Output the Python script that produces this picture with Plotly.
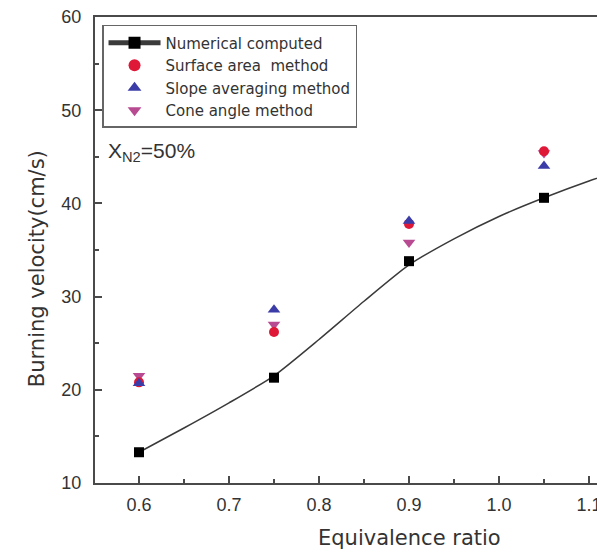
import plotly.graph_objects as go

# Data
phi = [0.6, 0.75, 0.9, 1.05]
numerical = [13.3, 21.3, 33.8, 40.6]
# numerical (computed) curve, continuing past the right edge of the view
curve_x = [0.6, 0.65, 0.7, 0.75, 0.8, 0.85, 0.9, 0.95, 1.0, 1.05, 1.1, 1.15]
curve_y = [13.3, 15.9, 18.6, 21.5, 25.4, 29.5, 33.4, 36.2, 38.6, 40.6, 42.4, 44.0]
surface_area = [20.8, 26.2, 37.8, 45.6]
slope_avg = [20.7, 28.6, 38.1, 44.0]
cone_angle = [21.5, 27.0, 35.8, 45.4]

x_ticks = [0.6, 0.7, 0.8, 0.9, 1.0, 1.1]
x_tick_text = ["0.6", "0.7", "0.8", "0.9", "1.0", "1.1"]
y_ticks = [10, 20, 30, 40, 50, 60]

FONT = "Liberation Sans, Arial, sans-serif"
WFONT = "DejaVu Sans, Verdana, sans-serif"
TXT = "#333333"
AX = "#4a4a4a"

fig = go.Figure()

# computed curve (line only)
fig.add_trace(go.Scatter(
    x=curve_x, y=curve_y, mode="lines", showlegend=False, legendgroup="num",
    line=dict(color="#3a3a3a", width=1.5, shape="spline", smoothing=0.6),
    hoverinfo="skip",
))
# computed points
fig.add_trace(go.Scatter(
    x=phi, y=numerical, mode="markers", showlegend=False, legendgroup="num",
    name="Numerical computed",
    marker=dict(symbol="square", size=10, color="black"),
))
# legend entry (line + square) for the computed series
fig.add_trace(go.Scatter(
    x=[None], y=[None], mode="lines+markers", name="Numerical computed",
    legendgroup="num", legendrank=1,
    line=dict(color="#3a3a3a", width=1.5),
    marker=dict(symbol="square", size=10, color="black"),
))
fig.add_trace(go.Scatter(
    x=phi, y=cone_angle, mode="markers", name="Cone angle method", legendrank=4,
    marker=dict(symbol="triangle-down", size=11, color="#b84a92"),
))
fig.add_trace(go.Scatter(
    x=phi, y=surface_area, mode="markers", name="Surface area  method", legendrank=2,
    marker=dict(symbol="circle", size=10, color="#e01838"),
))
fig.add_trace(go.Scatter(
    x=phi, y=slope_avg, mode="markers", name="Slope averaging method", legendrank=3,
    marker=dict(symbol="triangle-up", size=11, color="#3c3ca8"),
))

fig.update_layout(
    width=597, height=553,
    margin=dict(l=95, r=0, t=17, b=70, autoexpand=False),
    paper_bgcolor="white", plot_bgcolor="white",
    font=dict(family=FONT, color=TXT, size=16),
    showlegend=True,
    legend=dict(
        x=0.014, y=0.983, xanchor="left", yanchor="top",
        bgcolor="white", bordercolor="#666666", borderwidth=1.5,
        font=dict(family=WFONT, size=15, color=TXT),
        tracegroupgap=0, itemsizing="constant", itemwidth=52,
        traceorder="normal",
    ),
    xaxis=dict(
        range=[0.5511, 1.1089], tickvals=x_ticks, ticktext=x_tick_text,
        showgrid=False, zeroline=False, showline=True, linecolor=AX, linewidth=2,
        mirror=True, ticks="inside", ticklen=7, tickwidth=1.5, tickcolor=AX,
        tickfont=dict(size=18, color=TXT), ticklabelstandoff=4,
        ticklabeloverflow="allow",
        minor=dict(dtick=0.05, tick0=0.6, ticks="inside", ticklen=4, tickwidth=1.5, tickcolor=AX),
    ),
    yaxis=dict(
        range=[10, 60], tickvals=y_ticks,
        showgrid=False, zeroline=False, showline=True, linecolor=AX, linewidth=2,
        mirror=False, ticks="inside", ticklen=7, tickwidth=1.5, tickcolor=AX,
        tickfont=dict(size=18, color=TXT), ticklabelstandoff=8,
        minor=dict(dtick=5, tick0=10, ticks="inside", ticklen=4, tickwidth=1.5, tickcolor=AX),
    ),
)

fig.add_annotation(
    text="Burning velocity(cm/s)", textangle=-90, showarrow=False,
    xref="paper", yref="paper", x=-0.1155, y=0.459, xanchor="center", yanchor="middle",
    font=dict(family=WFONT, size=21, color=TXT),
)
fig.add_annotation(
    text="Equivalence ratio", showarrow=False,
    xref="paper", yref="paper", x=0.627, y=-0.118, xanchor="center", yanchor="middle",
    font=dict(family=WFONT, size=21, color=TXT),
)
fig.add_annotation(
    text="X<sub>N2</sub>=50%", showarrow=False,
    xref="paper", yref="paper", x=0.022, y=0.71, xanchor="left", yanchor="middle",
    font=dict(family=FONT, size=21, color=TXT),
)

fig.write_html("out.html", config={"displayModeBar": False},
               post_script="document.body.style.margin='0';")
